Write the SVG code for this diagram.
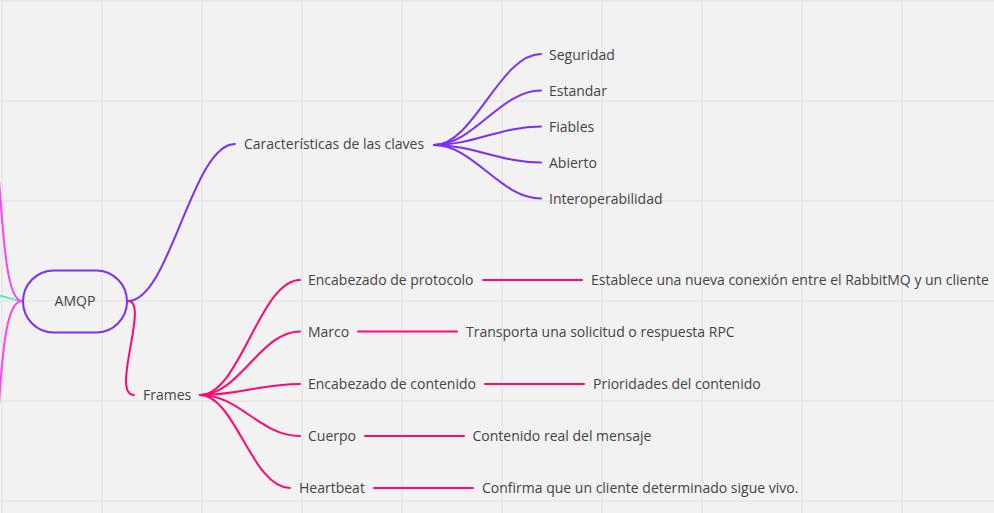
<svg xmlns="http://www.w3.org/2000/svg" width="994" height="513" viewBox="0 0 994 513">
<style>
.bg{fill:#f2f2f2}
.grid{stroke:#e6e6e6;stroke-width:1.5;fill:none}
.lbl{font-family:"Open Sans","Liberation Sans",sans-serif;font-size:14px;fill:#444}
.p{stroke:#7b2ff7;stroke-width:2;fill:none;stroke-linecap:round}
.r{stroke:#ff0a6c;stroke-width:2;fill:none;stroke-linecap:round}
.m{stroke:#ff45e6;stroke-width:2;fill:none}
.t{stroke:#5ee6c8;stroke-width:2;fill:none}
</style>
<rect class="bg" x="0" y="0" width="994" height="513"/>
<g id="grid" class="grid">
<path d="M2,0V513M102,0V513M202,0V513M302,0V513M402,0V513M502,0V513M602,0V513M702,0V513M802,0V513M902,0V513"/>
<path d="M0,1H994M0,101H994M0,201H994M0,301H994M0,401H994M0,501H994"/>
</g>
<g id="connectors">
<path class="t" d="M-5,295 C8,296 14,301 22,301"/>
<path class="m" d="M22,301 C8,301 4,250 -1,180"/>
<path class="m" d="M22,301 C8,301 3,340 -1,405"/>
<path class="p" d="M128,301 C170,301 192,144 235,144"/>
<path class="r" d="M128,301 C150,301 110,395 134,395"/>
<path class="p" d="M434,145 C474,145 500,54 541,54"/>
<path class="p" d="M434,145 C474,145 500,90.5 541,90.5"/>
<path class="p" d="M434,145 C474,145 500,126.5 541,126.5"/>
<path class="p" d="M434,145 C474,145 500,162.5 541,162.5"/>
<path class="p" d="M434,145 C474,145 500,198.5 541,198.5"/>
<path class="r" d="M200,395 C240,395 260,280 300,280"/>
<path class="r" d="M200,395 C240,395 260,331.5 300,331.5"/>
<path class="r" d="M200,395 C240,395 260,384 300,384"/>
<path class="r" d="M200,395 C240,395 260,436 300,436"/>
<path class="r" d="M200,395 C235,395 252,488 290,488"/>
<path class="r" d="M483,280H582"/>
<path class="r" d="M358,331.5H457"/>
<path class="r" d="M485,384H584"/>
<path class="r" d="M365,436H464"/>
<path class="r" d="M374,488H473"/>
</g>
<g id="amqp">
<rect x="23" y="270.5" width="104" height="62" rx="31" fill="none" stroke="#7b2ff7" stroke-width="2"/>
<text class="lbl" x="75" y="306" text-anchor="middle">AMQP</text>
</g>
<g id="caracteristicas"><text class="lbl" x="244" y="149">Características de las claves</text></g>
<g id="seguridad"><text class="lbl" x="549" y="59.5">Seguridad</text></g>
<g id="estandar"><text class="lbl" x="549" y="95.5">Estandar</text></g>
<g id="fiables"><text class="lbl" x="549" y="131.5">Fiables</text></g>
<g id="abierto"><text class="lbl" x="549" y="167.5">Abierto</text></g>
<g id="interoperabilidad"><text class="lbl" x="549" y="203.5">Interoperabilidad</text></g>
<g id="frames"><text class="lbl" x="143" y="400">Frames</text></g>
<g id="enc-protocolo"><text class="lbl" x="308" y="285">Encabezado de protocolo</text></g>
<g id="marco"><text class="lbl" x="308" y="336.5">Marco</text></g>
<g id="enc-contenido"><text class="lbl" x="308" y="389">Encabezado de contenido</text></g>
<g id="cuerpo"><text class="lbl" x="308" y="441">Cuerpo</text></g>
<g id="heartbeat"><text class="lbl" x="299" y="493">Heartbeat</text></g>
<g id="establece"><text class="lbl" x="591" y="285">Establece una nueva conexión entre el RabbitMQ y un cliente</text></g>
<g id="transporta"><text class="lbl" x="466" y="336.5">Transporta una solicitud o respuesta RPC</text></g>
<g id="prioridades"><text class="lbl" x="593" y="389">Prioridades del contenido</text></g>
<g id="contenido-real"><text class="lbl" x="472.5" y="441">Contenido real del mensaje</text></g>
<g id="confirma"><text class="lbl" x="482" y="493">Confirma que un cliente determinado sigue vivo.</text></g>
</svg>
